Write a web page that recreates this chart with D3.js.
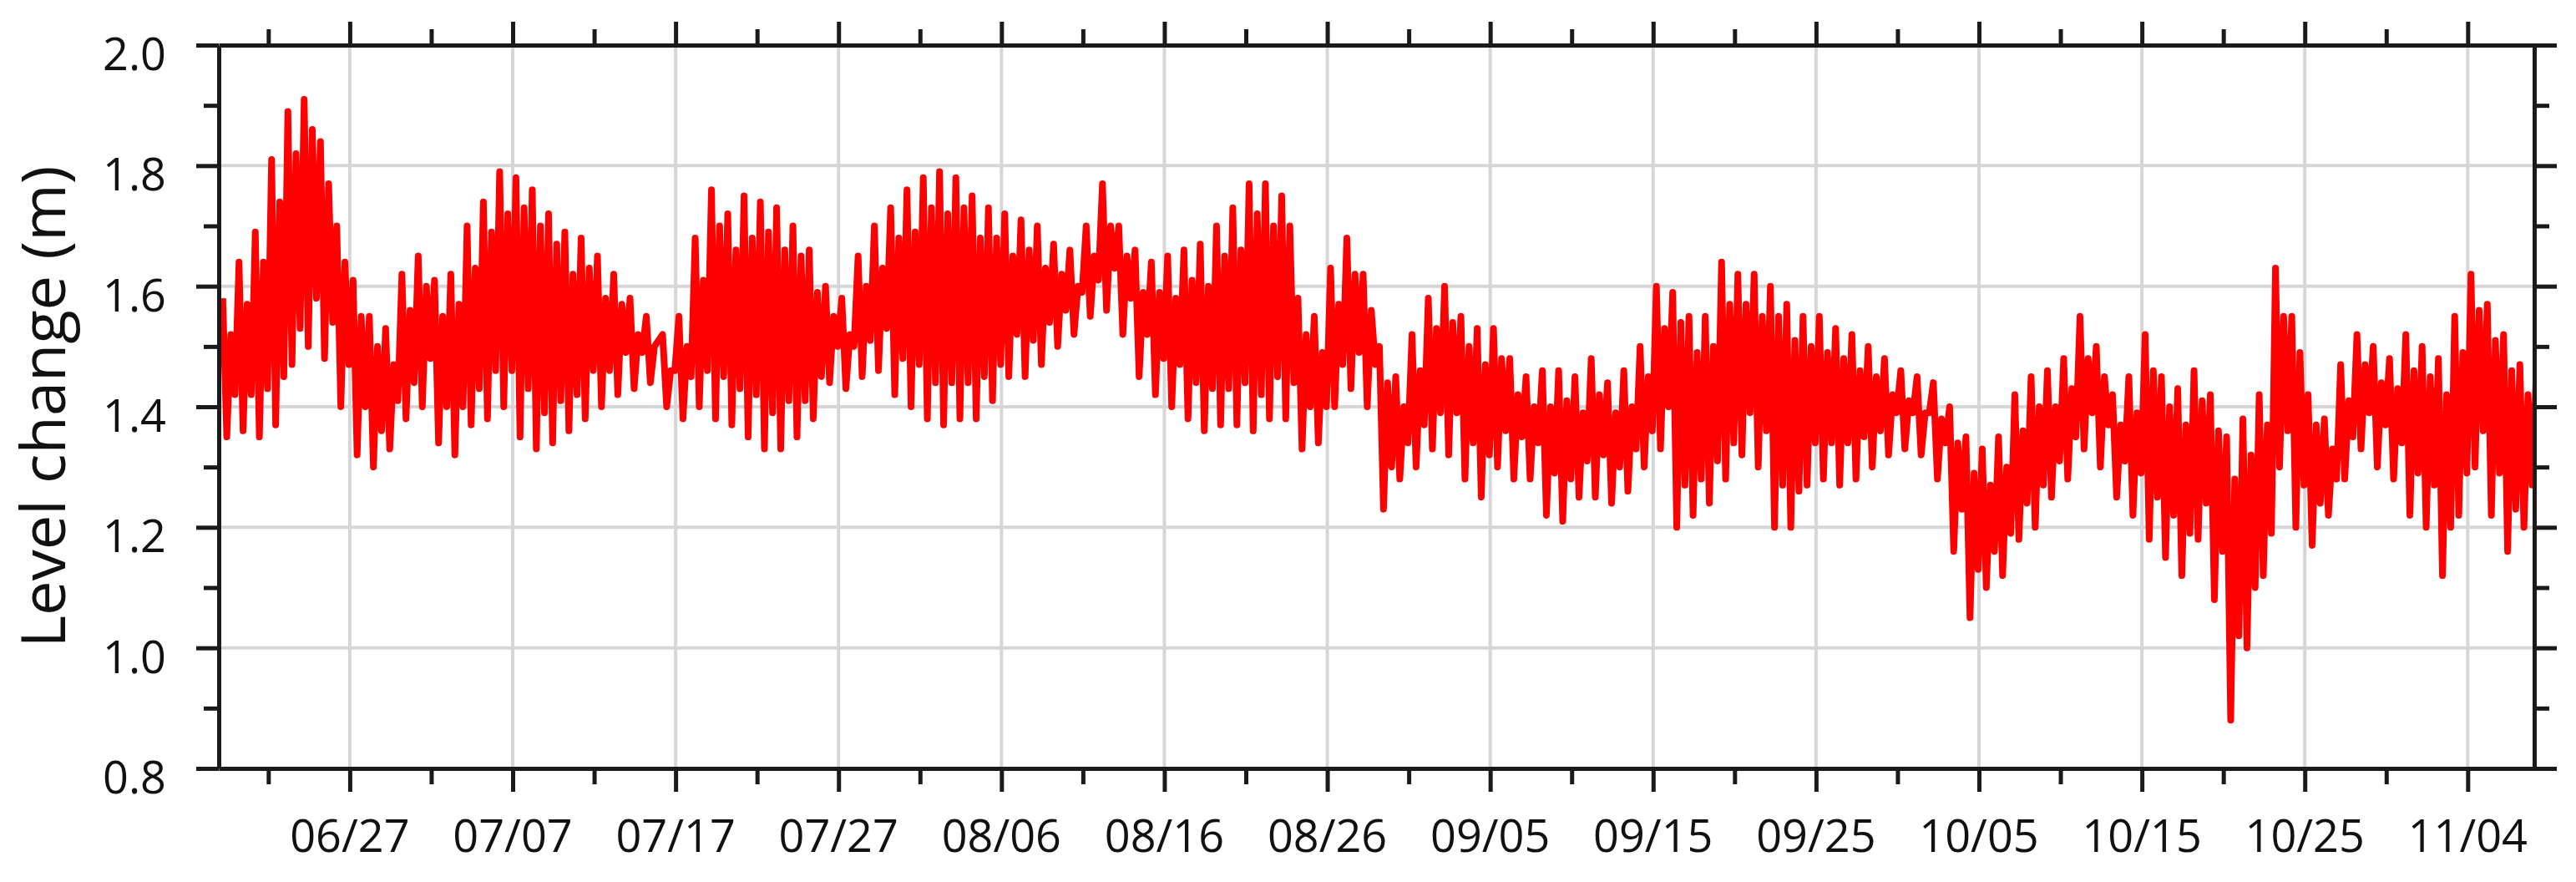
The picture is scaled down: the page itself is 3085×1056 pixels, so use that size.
<!DOCTYPE html>
<meta charset="utf-8">
<script src="https://cdn.jsdelivr.net/npm/d3@7"></script>
<style>

body {
  margin: 0;
  background: #fff;
}

text {
  font-family: "Open Sans", sans-serif;
  fill: #111;
}

.axis path,
.axis line {
  stroke: #1a1a1a;
  stroke-width: 5;
}

.grid line {
  stroke: #d6d6d6;
  stroke-width: 4;
}

</style>
<body>
<script>

  // Daily tide extremes (m), one entry per day from 06/19.
  var highHigh = [1.58,1.64,1.69,1.81,1.89,1.91,1.84,1.70,1.61,1.55,1.53,1.62,1.65,1.61,1.62,1.70,1.74,1.79,1.78,1.76,
    1.72,1.69,1.68,1.65,1.62,1.58,1.55,1.52,1.55,1.68,1.76,1.72,1.75,1.74,1.73,1.70,1.66,1.60,1.58,1.65,
    1.70,1.73,1.76,1.78,1.79,1.78,1.75,1.73,1.72,1.71,1.70,1.67,1.66,1.70,1.77,1.70,1.66,1.64,1.65,1.66,
    1.67,1.70,1.73,1.77,1.77,1.75,1.58,1.55,1.63,1.68,1.62,1.50,1.45,1.52,1.58,1.60,1.55,1.53,1.53,1.48,
    1.45,1.46,1.46,1.45,1.48,1.44,1.46,1.50,1.60,1.59,1.55,1.55,1.64,1.62,1.62,1.60,1.57,1.55,1.55,1.53,
    1.52,1.50,1.48,1.46,1.45,1.44,1.40,1.35,1.33,1.35,1.42,1.45,1.46,1.48,1.55,1.50,1.42,1.45,1.52,1.45,
    1.43,1.46,1.42,1.35,1.38,1.42,1.63,1.55,1.42,1.38,1.47,1.52,1.50,1.48,1.52,1.50,1.48,1.55,1.62,1.57,
    1.52,1.47,1.45];

  var lowLow = [1.35,1.36,1.35,1.37,1.47,1.50,1.48,1.40,1.32,1.30,1.33,1.38,1.40,1.34,1.32,1.37,1.38,1.40,1.35,1.33,
    1.34,1.36,1.38,1.40,1.42,1.43,1.44,1.40,1.38,1.40,1.38,1.37,1.35,1.33,1.33,1.35,1.38,1.44,1.43,1.45,
    1.46,1.42,1.40,1.38,1.37,1.38,1.38,1.41,1.45,1.45,1.47,1.50,1.52,1.55,1.56,1.52,1.45,1.42,1.40,1.38,
    1.36,1.37,1.37,1.36,1.38,1.38,1.33,1.34,1.40,1.43,1.40,1.23,1.28,1.30,1.33,1.32,1.28,1.25,1.30,1.28,
    1.28,1.22,1.21,1.25,1.25,1.24,1.26,1.30,1.33,1.20,1.22,1.24,1.28,1.32,1.30,1.20,1.20,1.27,1.28,1.27,
    1.28,1.30,1.32,1.33,1.32,1.28,1.16,1.05,1.10,1.12,1.18,1.20,1.25,1.28,1.33,1.30,1.25,1.22,1.18,1.15,
    1.12,1.18,1.08,0.88,1.00,1.12,1.30,1.20,1.17,1.22,1.28,1.33,1.30,1.28,1.22,1.20,1.12,1.22,1.30,1.22,
    1.16,1.20,1.30];

  var lowHigh = [1.52,1.57,1.64,1.74,1.82,1.86,1.77,1.64,1.55,1.50,1.47,1.56,1.60,1.55,1.57,1.63,1.69,1.72,1.73,1.70,
    1.67,1.62,1.63,1.58,1.57,1.52,1.50,1.46,1.50,1.61,1.70,1.66,1.68,1.69,1.66,1.65,1.59,1.55,1.52,1.60,
    1.63,1.68,1.69,1.73,1.72,1.73,1.68,1.68,1.65,1.66,1.63,1.62,1.60,1.65,1.70,1.65,1.59,1.59,1.58,1.61,
    1.60,1.65,1.66,1.72,1.70,1.70,1.52,1.49,1.57,1.62,1.56,1.44,1.40,1.46,1.53,1.54,1.50,1.47,1.48,1.42,
    1.40,1.40,1.41,1.39,1.42,1.39,1.40,1.45,1.53,1.54,1.49,1.50,1.57,1.57,1.55,1.55,1.51,1.50,1.49,1.48,
    1.46,1.45,1.42,1.41,1.39,1.38,1.34,1.29,1.27,1.30,1.36,1.40,1.40,1.43,1.48,1.45,1.37,1.39,1.46,1.40,
    1.37,1.41,1.36,1.28,1.32,1.37,1.55,1.49,1.37,1.33,1.41,1.47,1.44,1.43,1.46,1.45,1.42,1.49,1.56,1.51,
    1.46,1.42,1.40];

  var highLow = [1.42,1.42,1.43,1.45,1.53,1.58,1.54,1.47,1.40,1.36,1.41,1.44,1.48,1.40,1.40,1.43,1.46,1.46,1.43,1.39,
    1.41,1.42,1.46,1.46,1.49,1.49,1.51,1.46,1.45,1.46,1.45,1.43,1.42,1.39,1.41,1.41,1.45,1.50,1.50,1.51,
    1.53,1.48,1.47,1.44,1.44,1.44,1.45,1.47,1.52,1.51,1.54,1.56,1.59,1.61,1.63,1.58,1.52,1.48,1.47,1.44,
    1.43,1.43,1.44,1.42,1.45,1.44,1.40,1.40,1.47,1.49,1.47,1.30,1.34,1.37,1.39,1.39,1.34,1.32,1.36,1.35,
    1.34,1.29,1.28,1.31,1.32,1.30,1.33,1.36,1.40,1.27,1.28,1.31,1.34,1.39,1.36,1.27,1.26,1.34,1.34,1.34,
    1.35,1.36,1.39,1.39,1.39,1.34,1.23,1.13,1.16,1.19,1.24,1.27,1.31,1.35,1.39,1.37,1.31,1.29,1.25,1.22,
    1.19,1.24,1.16,1.02,1.10,1.19,1.36,1.27,1.24,1.28,1.35,1.39,1.37,1.34,1.29,1.27,1.20,1.29,1.36,1.29,
    1.23,1.27,1.35];

  // Time of each extreme within the day (fraction of a day).
  var extremeOffsets = [0.2, 0.45, 0.7, 0.95];

  var majorTicks = ["06/27","07/07","07/17","07/27","08/06","08/16","08/26","09/05","09/15","09/25","10/05","10/15","10/25","11/04"];
  var minorTicks = ["06/22","07/02","07/12","07/22","08/01","08/11","08/21","08/31","09/10","09/20","09/30","10/10","10/20","10/30"];
  var yMajor = [0.8, 1.0, 1.2, 1.4, 1.6, 1.8, 2.0];
  var yMinor = [0.9, 1.1, 1.3, 1.5, 1.7, 1.9];

  var year = 2019;
  var day = 86400000;
  var start = Date.UTC(year, 5, 19);
  var parseTick = function(s) {
    var p = s.split("/");
    return new Date(Date.UTC(year, +p[0] - 1, +p[1]));
  };

  var series = [];
  highHigh.forEach(function(v, i) {
    var vals = [highHigh[i], lowLow[i], lowHigh[i], highLow[i]];
    vals.forEach(function(val, k) {
      series.push({t: new Date(start + (i + extremeOffsets[k]) * day), v: val});
    });
  });

  var W = 3085, H = 1056,
      margin = {top: 54, right: 50, bottom: 136, left: 262},
      width = 3035 - margin.left,
      height = 920 - margin.top;

  var svg = d3.select("body").append("svg")
    .attr("width", W)
    .attr("height", H);

  var g = svg.append("g")
    .attr("transform", "translate(" + margin.left + "," + margin.top + ")");

  var x = d3.scaleUtc()
    .domain([new Date(Date.UTC(year, 5, 18, 23)), new Date(Date.UTC(year, 10, 8, 2))])
    .range([0, width]);

  var y = d3.scaleLinear()
    .domain([0.8, 2.0])
    .range([height, 0]);

  var majorDates = majorTicks.map(parseTick),
      minorDates = minorTicks.map(parseTick);

  // grid
  g.append("g").attr("class", "grid")
    .selectAll("line").data(majorDates).enter().append("line")
    .attr("x1", function(d) { return x(d); })
    .attr("x2", function(d) { return x(d); })
    .attr("y1", 0).attr("y2", height);

  g.append("g").attr("class", "grid")
    .selectAll("line").data(yMajor.slice(1, -1)).enter().append("line")
    .attr("y1", function(d) { return y(d); })
    .attr("y2", function(d) { return y(d); })
    .attr("x1", 0).attr("x2", width);

  // the series
  g.append("clipPath").attr("id", "clip")
    .append("rect").attr("width", width).attr("height", height);

  var line = d3.line()
    .x(function(d) { return x(d.t); })
    .y(function(d) { return y(d.v); });

  g.append("path")
    .datum(series)
    .attr("clip-path", "url(#clip)")
    .attr("fill", "none")
    .attr("stroke", "#ff0000")
    .attr("stroke-width", 8)
    .attr("stroke-linejoin", "round")
    .attr("d", line);

  // axes: major + minor ticks on all four sides
  function addAxis(axis, tr, noDomain) {
    var a = g.append("g").attr("class", "axis").attr("transform", tr).call(axis);
    a.selectAll("text").remove();
    if (noDomain) a.select(".domain").remove();
    return a;
  }

  addAxis(d3.axisBottom(x).tickValues(majorDates).tickSize(28).tickSizeOuter(0), "translate(0," + height + ")");
  addAxis(d3.axisBottom(x).tickValues(minorDates).tickSize(19), "translate(0," + height + ")", true);
  addAxis(d3.axisTop(x).tickValues(majorDates).tickSize(28).tickSizeOuter(0), "translate(0,0)");
  addAxis(d3.axisTop(x).tickValues(minorDates).tickSize(19), "translate(0,0)", true);
  addAxis(d3.axisLeft(y).tickValues(yMajor).tickSize(27).tickSizeOuter(0), "translate(0,0)");
  addAxis(d3.axisLeft(y).tickValues(yMinor).tickSize(18), "translate(0,0)", true);
  addAxis(d3.axisRight(y).tickValues(yMajor).tickSize(27).tickSizeOuter(0), "translate(" + width + ",0)");
  addAxis(d3.axisRight(y).tickValues(yMinor).tickSize(18), "translate(" + width + ",0)", true);

  // tick labels
  g.selectAll(".xlabel").data(majorDates).enter().append("text")
    .attr("class", "xlabel")
    .attr("x", function(d) { return x(d); })
    .attr("y", height + 100)
    .attr("text-anchor", "middle")
    .attr("font-size", "54px")
    .text(d3.utcFormat("%m/%d"));

  g.selectAll(".ylabel").data(yMajor).enter().append("text")
    .attr("class", "ylabel")
    .attr("x", -63)
    .attr("y", function(d) { return y(d) + 30; })
    .attr("text-anchor", "end")
    .attr("font-size", "54px")
    .text(d3.format(".1f"));

  // y title
  svg.append("text")
    .attr("transform", "translate(78," + (margin.top + height / 2) + ") rotate(-90)")
    .attr("text-anchor", "middle")
    .attr("font-size", "74px")
    .text("Level change (m)");

</script>
</body>
